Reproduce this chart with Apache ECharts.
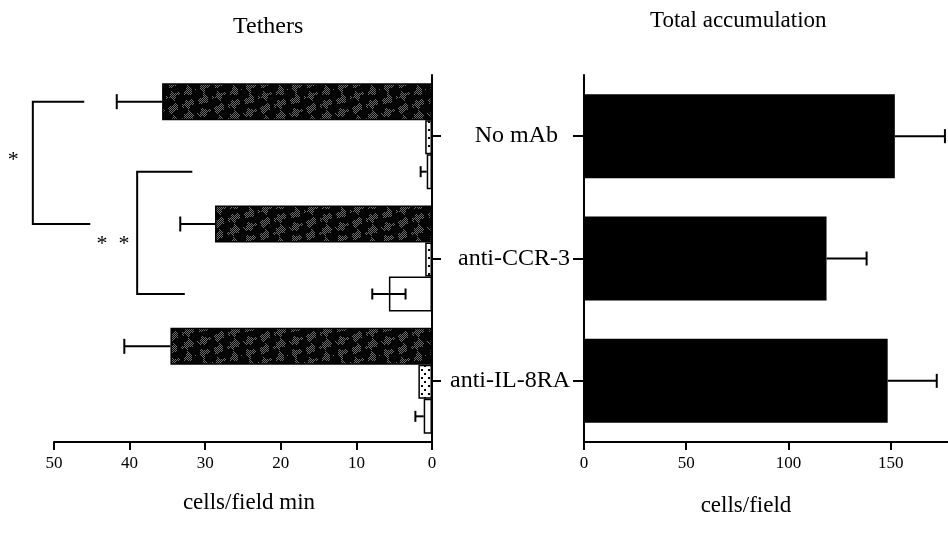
<!DOCTYPE html>
<html>
<head>
<meta charset="utf-8">
<script src="https://cdn.jsdelivr.net/npm/echarts@6/dist/echarts.min.js"></script>
<style>
  html, body { margin: 0; padding: 0; background: #fff; }
  #chart { width: 948px; height: 533px; }
</style>
</head>
<body>
<div id="chart"></div>
<script>
// data
const groups = ["No mAb", "anti-CCR-3", "anti-IL-8RA"];

// Tethers (cells/field min)
const tetherDark = [35.7, 28.7, 34.6];
const tetherDarkErr = [6.0, 4.6, 6.1];
const tetherDotted = [0.9, 0.9, 1.8];
const tetherWhite = [0.7, 5.7, 1.1];
const tetherWhiteErr = [0.8, 2.2, 1.1];

// Total accumulation (cells/field)
const totalAcc = [152, 118.6, 148.5];
const totalAccErr = [24.5, 19.6, 24.0];

const tetherTicks = [0, 10, 20, 30, 40, 50];
const totalTicks = [0, 50, 100, 150];

const FONT = "Liberation Serif";

// fill textures
function darkTexture() {
  // near black with blotches of a fine grey checker, like the halftone in the scan
  const w = 46, h = 38;
  const c = document.createElement("canvas");
  c.width = w; c.height = h;
  const g = c.getContext("2d");
  g.fillStyle = "#050505";
  g.fillRect(0, 0, w, h);
  g.fillStyle = "#6e6e6e";
  for (let x = 0; x < w; x++) {
    for (let y = 0; y < h; y++) {
      const blob = Math.sin(x * 0.41) + Math.sin(y * 0.5 + x * 0.13) + 0.6 * Math.cos(x * 0.9 - y * 0.3);
      if ((x + y) % 2 === 0 && blob > 0.5) g.fillRect(x, y, 1, 1);
    }
  }
  return c;
}
function dotTexture() {
  const c = document.createElement("canvas");
  c.width = 7; c.height = 8;
  const g = c.getContext("2d");
  g.fillStyle = "#fff";
  g.fillRect(0, 0, 7, 8);
  g.fillStyle = "#000";
  g.fillRect(1, 1, 2, 2);
  g.fillRect(4, 5, 2, 2);
  return c;
}

// bar thickness on the tethers panel; offsets are the bar centres from the category centre
const barW = [37, 34, 35];
const barOff = [-34.5, 1, 35.5];

// error bars drawn on the outer end of the bar
function errorSeries(axisIdx, means, errs, offset, capH, twoSided) {
  return {
    type: "custom",
    xAxisIndex: axisIdx,
    yAxisIndex: axisIdx,
    z: 5,
    silent: true,
    data: means.map((m, i) => [m, errs[i], i]),
    encode: { x: 0, y: 2 },
    renderItem: function (params, api) {
      const m = api.value(0), e = api.value(1), c = api.value(2);
      const p0 = api.coord([m, c]);
      const p1 = api.coord([m + e, c]);
      const y = p0[1] + offset;
      const st = { stroke: "#000", lineWidth: 2 };
      const kids = [
        { type: "line", shape: { x1: p0[0], y1: y, x2: p1[0], y2: y }, style: st },
        { type: "line", shape: { x1: p1[0], y1: y - capH / 2, x2: p1[0], y2: y + capH / 2 }, style: st }
      ];
      if (twoSided && m > 2 * e) {
        const p2 = api.coord([m - e, c]);
        kids.push({ type: "line", shape: { x1: p0[0], y1: y, x2: p2[0], y2: y }, style: st });
        kids.push({ type: "line", shape: { x1: p2[0], y1: y - capH / 2, x2: p2[0], y2: y + capH / 2 }, style: st });
      }
      return { type: "group", children: kids };
    }
  };
}

// significance brackets (axis units of the tethers panel)
const brackets = [
  { label: "*", bar: 0, from: 0, to: 1, spine: 52.8, armTop: 46.0, armBottom: 45.2, labelX: 55.4, labelDy: -3 },
  { label: "*  *", bar: 2, from: 0, to: 1, spine: 39.0, armTop: 31.7, armBottom: 32.7, labelX: 42.2, labelDy: 11 }
];

const chart = echarts.init(document.getElementById("chart"));

const axisLine = { show: true, lineStyle: { color: "#000", width: 2 } };
const axisTick = { show: true, inside: false, length: 8, lineStyle: { color: "#000", width: 2 } };
const tickLabel = { color: "#000", fontFamily: FONT, fontSize: 17, margin: 13 };

chart.setOption({
  animation: false,
  backgroundColor: "#fff",
  title: [
    { text: "Tethers", left: 233, top: 15, padding: 0,
      textStyle: { fontFamily: FONT, fontSize: 24, fontWeight: "normal", color: "#000" } },
    { text: "Total accumulation", left: 650, top: 9, padding: 0,
      textStyle: { fontFamily: FONT, fontSize: 23, fontWeight: "normal", color: "#000" } }
  ],
  grid: [
    { left: 54, right: 516, top: 75, bottom: 91 },
    { left: 584, right: 0, top: 75, bottom: 91 }
  ],
  xAxis: [
    {
      gridIndex: 0, type: "value", inverse: true, min: 0, max: 50, interval: 10,
      axisLine: axisLine,
      axisTick: Object.assign({ customValues: tetherTicks }, axisTick),
      splitLine: { show: false },
      axisLabel: Object.assign({ customValues: tetherTicks }, tickLabel),
      name: "cells/field min", nameLocation: "middle", nameGap: 49,
      nameTextStyle: { fontFamily: FONT, fontSize: 23, color: "#000", padding: [0, 0, 0, 12] }
    },
    {
      gridIndex: 1, type: "value", min: 0, max: 178,
      axisLine: axisLine,
      axisTick: Object.assign({ customValues: totalTicks }, axisTick),
      splitLine: { show: false },
      axisLabel: Object.assign({ customValues: totalTicks }, tickLabel),
      name: "cells/field", nameLocation: "middle", nameGap: 52,
      nameTextStyle: { fontFamily: FONT, fontSize: 23, color: "#000", padding: [0, 40, 0, 0] }
    }
  ],
  yAxis: [
    {
      gridIndex: 0, type: "category", data: groups, inverse: true, position: "right",
      axisLine: axisLine,
      axisTick: { show: true, inside: false, alignWithLabel: true, length: 9, lineStyle: { color: "#000", width: 2 } },
      axisLabel: { show: false }
    },
    {
      gridIndex: 1, type: "category", data: groups, inverse: true, position: "left",
      axisLine: axisLine,
      axisTick: { show: true, inside: false, alignWithLabel: true, length: 11, lineStyle: { color: "#000", width: 2 } },
      axisLabel: {
        color: "#000", fontFamily: FONT, fontSize: 24, margin: 14,
        formatter: v => (v === "No mAb" ? v + "  " : v)
      }
    }
  ],
  series: [
    {
      type: "bar", xAxisIndex: 0, yAxisIndex: 0, data: tetherDark,
      barWidth: barW[0], barGap: "0%",
      itemStyle: { color: { image: darkTexture(), repeat: "repeat" }, borderColor: "#000", borderWidth: 1.5 }
    },
    {
      type: "bar", xAxisIndex: 0, yAxisIndex: 0, data: tetherDotted,
      barWidth: barW[1], barGap: "0%",
      itemStyle: { color: { image: dotTexture(), repeat: "repeat" }, borderColor: "#000", borderWidth: 1.5 }
    },
    {
      type: "bar", xAxisIndex: 0, yAxisIndex: 0, data: tetherWhite,
      barWidth: barW[2], barGap: "0%",
      itemStyle: { color: "#fff", borderColor: "#000", borderWidth: 1.5 }
    },
    errorSeries(0, tetherDark, tetherDarkErr, barOff[0], 15, false),
    errorSeries(0, tetherWhite, tetherWhiteErr, barOff[2], 11, true),
    {
      type: "bar", xAxisIndex: 1, yAxisIndex: 1, data: totalAcc,
      barWidth: 84,
      itemStyle: { color: "#000" }
    },
    errorSeries(1, totalAcc, totalAccErr, 0, 14, false),
    {
      type: "custom", xAxisIndex: 0, yAxisIndex: 0, silent: true, z: 6,
      data: brackets.map((b, i) => [b.spine, b.from, i]),
      encode: { x: 0, y: 1 },
      renderItem: function (params, api) {
        const b = brackets[params.dataIndex];
        const off = barOff[b.bar];
        const top = api.coord([b.spine, b.from]);
        const bot = api.coord([b.spine, b.to]);
        const yT = top[1] + off, yB = bot[1] + off;
        const xTop = api.coord([b.armTop, b.from])[0];
        const xBot = api.coord([b.armBottom, b.to])[0];
        const xLab = api.coord([b.labelX, b.from])[0];
        return {
          type: "group",
          children: [
            { type: "polyline", shape: { points: [[xTop, yT], [top[0], yT], [top[0], yB], [xBot, yB]] },
              style: { stroke: "#000", lineWidth: 2, fill: null } },
            { type: "text", x: xLab, y: (yT + yB) / 2 + b.labelDy,
              style: { text: b.label, fontFamily: FONT, fontSize: 22, fill: "#000",
                       align: "center", verticalAlign: "middle" } }
          ]
        };
      }
    }
  ]
});
</script>
</body>
</html>
